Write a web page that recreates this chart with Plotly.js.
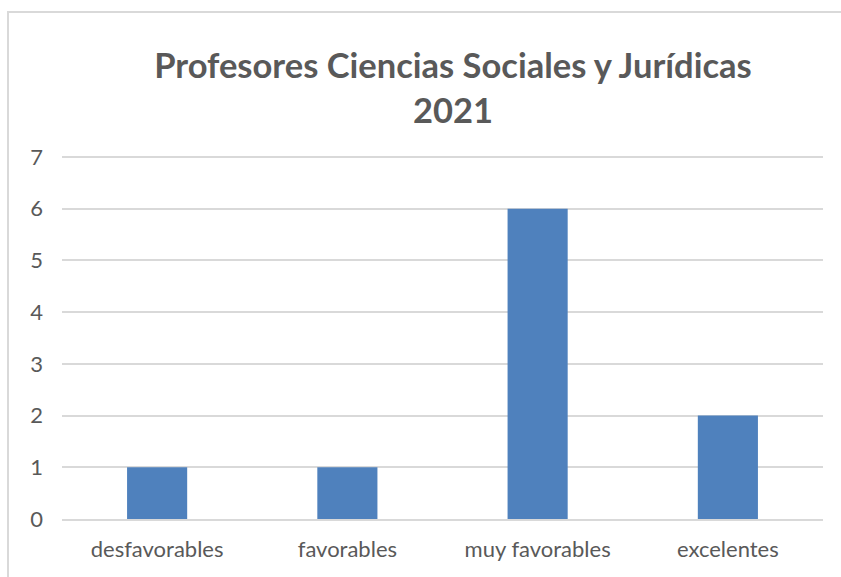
<!DOCTYPE html>
<html>
<head>
<meta charset="utf-8">
<script src="https://cdn.plot.ly/plotly-3.0.1.min.js"></script>
<style>
html,body{margin:0;padding:0;background:#fff;overflow:hidden;}
#chart{position:absolute;left:0;top:0;width:841px;height:577px;}
#frame{position:absolute;left:7px;top:11px;width:900px;height:700px;border:2px solid #d9d9d9;pointer-events:none;}
</style>
</head>
<body>
<div id="chart"></div>
<div id="frame"></div>
<script>
const categories = ["desfavorables", "favorables", "muy favorables", "excelentes"];
const values = [1, 1, 6, 2];
const yTicks = [0, 1, 2, 3, 4, 5, 6, 7];
const chartTitle = "Profesores Ciencias Sociales y Jurídicas<br>2021";

const FONT = "Lato, 'Open Sans', sans-serif";
const data = [{
  type: "bar",
  x: categories,
  y: values,
  marker: {color: "#4f81bd", line: {width: 0}},
  hoverinfo: "x+y"
}];

const layout = {
  width: 841, height: 577,
  paper_bgcolor: "rgba(0,0,0,0)",
  plot_bgcolor: "rgba(0,0,0,0)",
  margin: {l: 62, r: 18, t: 155, b: 58, pad: 0},
  bargap: 0.684,
  showlegend: false,
  title: {
    text: chartTitle,
    font: {family: FONT, size: 34.5, color: "#595959", weight: "bold"},
    xref: "container", x: 0.5386, xanchor: "center",
    yref: "container", y: 0.865, yanchor: "middle"
  },
  xaxis: {
    type: "category",
    showgrid: false,
    showline: true, linecolor: "#d9d9d9", linewidth: 2,
    ticks: "", ticklabelstandoff: 10,
    tickfont: {family: FONT, size: 22, color: "#595959"},
    zeroline: false
  },
  yaxis: {
    range: [0, 7.04],
    tickvals: yTicks,
    showgrid: true, gridcolor: "#d9d9d9", gridwidth: 2,
    zeroline: false, showline: false,
    ticks: "", ticklabelstandoff: 18,
    tickfont: {family: FONT, size: 22, color: "#595959"}
  }
};

Plotly.newPlot("chart", data, layout, {displayModeBar: false});
</script>
</body>
</html>
